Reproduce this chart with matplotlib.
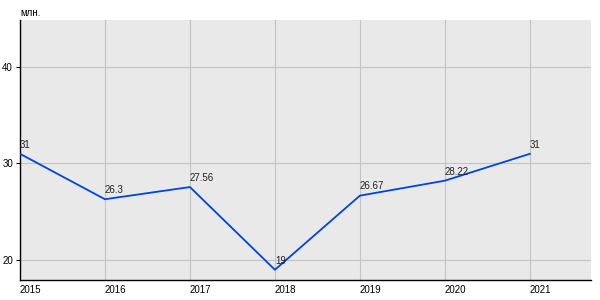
import matplotlib
matplotlib.use("Agg")
import matplotlib.pyplot as plt

years = [2015, 2016, 2017, 2018, 2019, 2020, 2021]
values = [31, 26.3, 27.56, 19, 26.67, 28.22, 31]
labels = ["31", "26.3", "27.56", "19", "26.67", "28.22", "31"]
yticks = [20, 30, 40]

plt.rcParams['font.family'] = ['Liberation Sans', 'DejaVu Sans']
fig = plt.figure(figsize=(6, 3), dpi=100)
ax = fig.add_axes([20/600, 20/300, 571/600, 260/300])
ax.set_facecolor('#e9e9e9')
ax.plot(years, values, color='#0044e0', lw=1.3, zorder=3)
for x, y, t in zip(years, values, labels):
    ax.annotate(t, (x, y), xytext=(0, 3), textcoords='offset points',
                ha='left', va='bottom', fontsize=7, color='#222222', zorder=4)
ax.set_xlim(2015, 2021.72)
ax.set_ylim(17.94, 44.85)
ax.set_xticks(years)
ax.set_xticklabels([str(y) for y in years], ha='left')
ax.set_yticks(yticks)
ax.grid(True, color='#c4c4c4', lw=0.8, zorder=0)
ax.set_axisbelow(True)
for s in ['top', 'right']:
    ax.spines[s].set_visible(False)
for s in ['left', 'bottom']:
    ax.spines[s].set_color('black')
    ax.spines[s].set_linewidth(1)
ax.tick_params(axis='x', length=0, labelsize=7, pad=3.5)
ax.tick_params(axis='y', length=3, labelsize=7, pad=2)
fig.text(20/600, 1 - 12.5/300, 'млн.', fontsize=7, ha='left', va='center')
fig.savefig('out.png', dpi=100)
